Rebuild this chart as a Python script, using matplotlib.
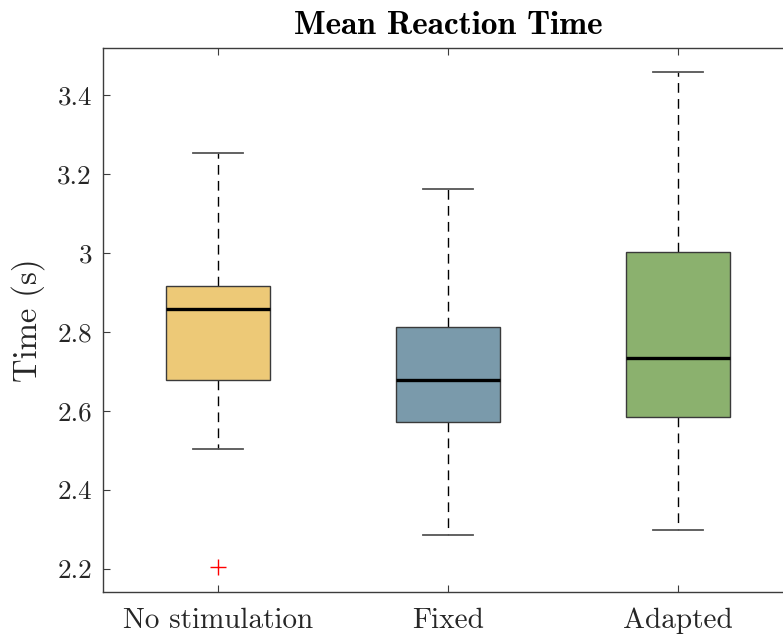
import matplotlib
matplotlib.use("Agg")
import matplotlib.pyplot as plt

# Summary statistics of mean reaction time per condition (seconds)
categories = ["No stimulation", "Fixed", "Adapted"]
q1 = [2.678, 2.571, 2.586]
medians = [2.858, 2.678, 2.734]
q3 = [2.917, 2.813, 3.003]
whisker_low = [2.504, 2.286, 2.299]
whisker_high = [3.253, 3.162, 3.458]
outliers = [[2.205], [], []]
fill_colors = ["#EDC977", "#7A9AAB", "#8BB16E"]

y_ticks = [2.2, 2.4, 2.6, 2.8, 3.0, 3.2, 3.4]
y_tick_labels = ["2.2", "2.4", "2.6", "2.8", "3", "3.2", "3.4"]

plt.rcParams["font.family"] = "cmr10"
plt.rcParams["axes.formatter.use_mathtext"] = True
plt.rcParams["mathtext.fontset"] = "cm"

W, H = 783, 637
fig = plt.figure(figsize=(W / 100, H / 100), dpi=100)
left, right, top, bottom = 103, 793, 48, 592
ax = fig.add_axes([left / W, 1 - bottom / H, (right - left) / W, (bottom - top) / H])

stats = []
for i, name in enumerate(categories):
    stats.append(dict(label=name, q1=q1[i], med=medians[i], q3=q3[i],
                      whislo=whisker_low[i], whishi=whisker_high[i],
                      fliers=outliers[i]))

positions = list(range(1, len(categories) + 1))
parts = ax.bxp(
    stats, positions=positions, widths=0.45, patch_artist=True,
    showfliers=True,
    boxprops=dict(edgecolor="#3a3a3a", linewidth=1.0),
    medianprops=dict(color="black", linewidth=2.4, solid_capstyle="butt"),
    whiskerprops=dict(color="black", linewidth=1.0, linestyle=(0, (7, 4.5))),
    capprops=dict(color="#555555", linewidth=1.3),
    flierprops=dict(marker="+", markeredgecolor="red", markersize=11,
                    markeredgewidth=1.0, linestyle="none"),
    capwidths=0.22,
)
for patch, c in zip(parts["boxes"], fill_colors):
    patch.set_facecolor(c)
for w in parts["whiskers"]:
    w.set_zorder(1)

ax.set_xlim(0.5, 3.5)
ax.set_ylim(2.1418, 3.519)
ax.set_yticks(y_ticks)
ax.set_yticklabels(y_tick_labels)
ax.set_xticks(positions)
ax.set_xticklabels(categories)

for s in ax.spines.values():
    s.set_color("#3c3c3c")
    s.set_linewidth(1.0)
ax.tick_params(axis="both", direction="in", length=5, width=0.8,
               color="#3c3c3c", labelcolor="#262626",
               top=True, right=True)
ax.tick_params(axis="y", labelsize=19.5, pad=8)
ax.tick_params(axis="x", labelsize=21, pad=11)

ax.set_ylabel("Time (s)", fontsize=23.5, color="#262626", labelpad=9)
ax.set_title("Mean Reaction Time", fontsize=24, fontfamily="cmb10",
             color="black", pad=10)

fig.savefig("out.png", dpi=100)
